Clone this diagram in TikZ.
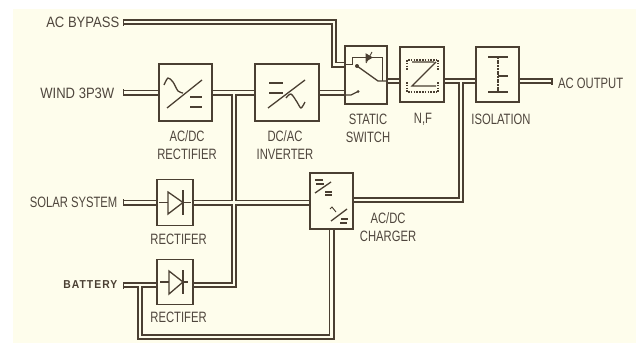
\documentclass[tikz,border=0pt]{standalone}
\usepackage{fontspec}
\usepackage{xcolor}
\usepackage{tikz}
\usetikzlibrary{calc}
\newfontfamily\labelfont[FakeStretch=0.75]{Liberation Sans}
\newfontfamily\widelabelfont[FakeStretch=0.87]{Liberation Sans}
\newfontfamily\batteryfont[LetterSpace=9,FakeStretch=0.9]{Liberation Sans}
\definecolor{Ink}{HTML}{4A3F32}
\definecolor{SoftInk}{HTML}{4F463D}
\definecolor{Paper}{HTML}{FEFDEC}
\pgfdeclarelayer{paperlayer}
\pgfdeclarelayer{buslayer}
\pgfsetlayers{paperlayer,buslayer,main}
\tikzset{
  unitbox/.style={draw=Ink,fill=Paper,line width=1.3pt,inner sep=0pt},
  busline/.style={draw=Ink,line width=1.6pt,double=Paper,double distance=2.8pt},
  busend/.style={fill=Ink,inner sep=0pt,minimum width=1.6pt,minimum height=7pt},
  sourcelabel/.style={anchor=east,inner sep=0pt,text=SoftInk,font=\labelfont\fontsize{15}{15}\selectfont},
  unitlabel/.style={align=center,inner sep=0pt,text=SoftInk,font=\labelfont\fontsize{15}{18}\selectfont},
  symbol/.style={draw=Ink,line width=1.3pt},
  thinsymbol/.style={draw=Ink,line width=0.9pt}
}
\begin{document}
\begin{tikzpicture}[x=1pt,y=-1pt]
  \useasboundingbox (0,0) rectangle (636,343);
  \begin{pgfonlayer}{paperlayer}
    \fill[Paper] (13,9) rectangle (636,343);
  \end{pgfonlayer}

  \node[unitbox,minimum width=53pt,minimum height=57pt] (acdc) at (185.5,92.5) {};
  \node[unitbox,minimum width=64pt,minimum height=57pt] (dcac) at (287,92.5) {};
  \node[unitbox,minimum width=42pt,minimum height=58pt] (switch) at (366,75) {};
  \node[unitbox,minimum width=44pt,minimum height=55pt] (nf) at (422,74.5) {};
  \node[unitbox,minimum width=43pt,minimum height=55pt] (isolation) at (497.5,74.5) {};
  \node[unitbox,minimum width=36pt,minimum height=46pt] (solarrect) at (175,202.5) {};
  \node[unitbox,minimum width=36pt,minimum height=45pt] (battrect) at (175,282) {};
  \node[unitbox,minimum width=43pt,minimum height=56pt] (charger) at (331.5,201) {};

  \node[busend] (bypassend) at (123.5,22) {};
  \node[busend] (windend) at (123.5,92.5) {};
  \node[busend] (solarend) at (123.5,202.5) {};
  \node[busend] (batteryend) at (123.5,285) {};
  \node[busend] (outputend) at (552,81) {};

  \node[sourcelabel,font=\widelabelfont\fontsize{15}{15}\selectfont] (bypasslabel) at (119.5,22) {AC BYPASS};
  \node[sourcelabel,font=\widelabelfont\fontsize{15}{15}\selectfont] (windlabel) at (114.5,93) {WIND 3P3W};
  \node[sourcelabel] (solarlabel) at (117.5,202) {SOLAR SYSTEM};
  \node[sourcelabel,text=Ink,font=\batteryfont\bfseries\fontsize{11.5}{12}\selectfont] (batterylabel) at (117.5,285) {BATTERY};
  \node[sourcelabel,anchor=west] (outputlabel) at (558,83) {AC OUTPUT};

  \node[unitlabel] (acdclabel) at (187,145) {AC/DC\\RECTIFIER};
  \node[unitlabel] (dcaclabel) at (285,145) {DC/AC\\INVERTER};
  \node[unitlabel] (switchlabel) at (368,128) {STATIC\\SWITCH};
  \node[unitlabel] (nflabel) at (423,119) {N,F};
  \node[unitlabel] (isolationlabel) at (501,119) {ISOLATION};
  \node[unitlabel] (solarrectlabel) at (178.5,239) {RECTIFER};
  \node[unitlabel] (battrectlabel) at (178.5,317) {RECTIFER};
  \node[unitlabel] (chargerlabel) at (388,227) {AC/DC\\CHARGER};

  \coordinate (bypasscorner) at (334,22);
  \coordinate (bypassin) at (345,64.5);
  \coordinate (windtap) at (234,92.5);
  \coordinate (solartap) at (234,202.5);
  \coordinate (batterytap) at (234,285);
  \coordinate (batterybranch) at (140,285);
  \coordinate (outputtap) at (461,81);
  \coordinate (dcacin) at (345,92.5);

  \begin{pgfonlayer}{buslayer}
    \draw[busline] (bypassend.center) -- (bypasscorner) -- (bypasscorner |- bypassin) -- (bypassin);
    \draw[busline] (windend.center) -- (acdc.west);
    \draw[busline] (dcac.east) -- (dcacin);
    \draw[busline] (acdc.east) -- (dcac.west) (windtap) -- (batterytap) -- (battrect.east |- batterytap)
      (solarrect.east) -- (charger.west |- solartap);
    \draw[busline] (solarend.center) -- (solarrect.west);
    \draw[busline] (batteryend.center) -- (battrect.west |- batteryend)
      (batterybranch) -- (140,337) -- (charger.south |- 0,337) -- (charger.south);
    \draw[busline] (switch.east |- outputtap) -- (nf.west |- outputtap);
    \draw[busline] (nf.east |- outputtap) -- (isolation.west |- outputtap)
      (outputtap) -- (461,200) -- (charger.east |- 0,200);
    \draw[busline] (isolation.east |- outputtap) -- (outputend.center);
  \end{pgfonlayer}

  % rectifier and inverter marks
  \draw[symbol] (167,108) -- (202,80);
  \draw[symbol] plot[smooth] coordinates {(164,85) (168,78) (173,82) (178,91) (183,93)};
  \draw[symbol,line width=1.6pt] (190,97) -- (202,97) (190,107) -- (202,107);
  \draw[symbol] (268,108) -- (305,80);
  \draw[symbol,line width=1.6pt] (269,83) -- (283,83) (269,93) -- (283,93);
  \draw[symbol] plot[smooth] coordinates {(286,98) (291,94) (297,102) (301,108) (305,102)};

  % diodes
  \draw[symbol] (159,202.5) -- (191,202.5);
  \draw[symbol,fill=Paper] (168,192) -- (183,202.5) -- (168,214) -- cycle;
  \draw[symbol] (183,190) -- (183,215);
  \draw[symbol] (160,282) -- (188,282);
  \draw[symbol,fill=Paper] (169,271) -- (183,282) -- (169,294) -- cycle;
  \draw[symbol] (183,270) -- (183,294);

  % static switch
  \draw[thinsymbol] (345,64.5) -- (352,64.5) -- (352,57) -- (382,57) -- (382,81);
  \draw[symbol] (357,66) -- (378,81) -- (387,81);
  \fill[Ink] (357,66) circle (2);
  \draw[symbol] (345,95) -- (351,95) -- (358,91.5);
  \fill[Ink] (358,91.5) circle (1.5);
  \draw[thinsymbol,fill=Ink] (366,54) -- (372,57.5) -- (366,61) -- cycle;
  \draw[thinsymbol] (372,52) -- (366,63);

  % noise filter
  \draw[thinsymbol,dash pattern=on 1.6pt off 1.2pt,line width=1.5pt] (408,60) -- (437,60) (408,92) -- (437,92)
    (407,60) -- (407,71) (407,82) -- (407,92) (438,60) -- (438,71) (438,82) -- (438,92);
  \draw[thinsymbol,line width=1.1pt] (412,62) -- (434,62) (436,62) -- (412,86) -- (436,86);

  % isolation transformer
  \draw[symbol] (488,57) -- (508,57) (488,92) -- (508,92) (498,76) -- (508,76);
  \draw[symbol,dash pattern=on 2pt off 0.7pt] (498,57) -- (498,92);

  % charger marks
  \draw[symbol] (315,193) -- (331,182);
  \draw[symbol,line width=1.6pt] (315,180) -- (323,180) (316,184) -- (324,184)
    (325,192) -- (332,192) (325,195) -- (332,195);
  \draw[symbol] (331,221) -- (347,209);
  \draw[thinsymbol] (330,209) -- (332,207) -- (336,212);
  \draw[symbol,line width=1.6pt] (341,219) -- (348,219) (340,223) -- (347,223);
\end{tikzpicture}
\end{document}
